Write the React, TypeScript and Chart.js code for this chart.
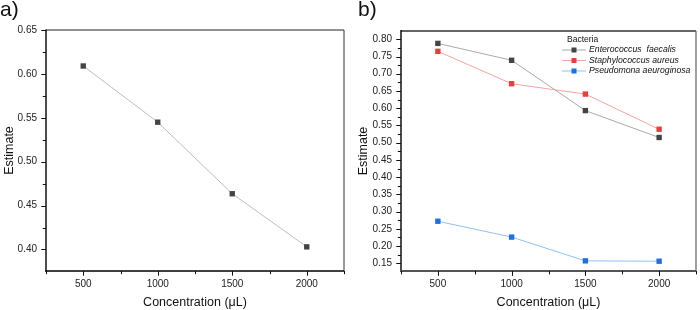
import { useEffect, useRef } from "react";
import { Chart, registerables } from "chart.js";

Chart.register(...registerables);

const FONT = "'Liberation Sans', Arial, sans-serif";

// Concentrations tested (µL)
const concentrations = [500, 1000, 1500, 2000];

// Panel a: single estimate per concentration
const estimateA = [0.609, 0.545, 0.4635, 0.403];

// Panel b: estimate per bacterium
const seriesNames = ["Enterococcus  faecalis", "Staphylococcus aureus", "Pseudomona aeuroginosa"];
const enterococcus = [0.788, 0.739, 0.593, 0.515];
const staphylococcus = [0.765, 0.671, 0.641, 0.539];
const pseudomona = [0.272, 0.226, 0.157, 0.156];

// Axis tick labels
const xTickLabels = [500, 1000, 1500, 2000];
const yTickLabelsA = [0.4, 0.45, 0.5, 0.55, 0.6, 0.65];
const yTickLabelsB = [0.15, 0.2, 0.25, 0.3, 0.35, 0.4, 0.45, 0.5, 0.55, 0.6, 0.65, 0.7, 0.75, 0.8];

type Border = { color: string; width: number };

// Major ticks with a minor tick halfway between each pair (and past the ends)
function withMinor(major: number[], min: number, max: number) {
  const step = major[1] - major[0];
  const out: { value: number; major: boolean }[] = [];
  const first = major[0] - step / 2;
  const count = major.length * 2 + 1;
  for (let i = 0; i < count; i++) {
    const v = Math.round((first + (i * step) / 2) * 100000) / 100000;
    if (v < min - 1e-9 || v > max + 1e-9) continue;
    out.push({ value: v, major: i % 2 === 1 });
  }
  return out;
}

const framePlugin = {
  id: "frame",
  afterDraw(chart: any, _args: any, opts: any) {
    const { ctx, chartArea } = chart;
    const { left, right, top, bottom } = chartArea;
    const xs = chart.scales.x;
    const ys = chart.scales.y;
    ctx.save();
    const seg = (x1: number, y1: number, x2: number, y2: number, b: Border) => {
      ctx.beginPath();
      ctx.strokeStyle = b.color;
      ctx.lineWidth = b.width;
      ctx.moveTo(x1, y1);
      ctx.lineTo(x2, y2);
      ctx.stroke();
    };
    const bt: Border = opts.top;
    const br: Border = opts.right;
    const bl: Border = opts.left;
    const bb: Border = opts.bottom;
    seg(left, top, right, top, bt);
    seg(right, top, right, bottom, br);
    seg(left, top - bt.width / 2, left, bottom + bb.width / 2, bl);
    seg(left - bl.width / 2, bottom, right, bottom, bb);

    // tick marks, outward
    const tickStyle: Border = { color: "#111", width: 1 };
    xs.ticks.forEach((t: any) => {
      const px = Math.round(xs.getPixelForValue(t.value)) + 0.5;
      const len = t.label !== "" ? 4 : 2.5;
      seg(px, bottom, px, bottom + bb.width / 2 + len, tickStyle);
    });
    ys.ticks.forEach((t: any) => {
      const py = Math.round(ys.getPixelForValue(t.value)) + 0.5;
      const len = t.label !== "" ? 4 : 2.5;
      seg(left - bl.width / 2 - len, py, left, py, tickStyle);
    });

    // panel letter
    ctx.fillStyle = "#111";
    ctx.font = `21px ${FONT}`;
    ctx.textBaseline = "alphabetic";
    ctx.textAlign = "left";
    ctx.fillText(opts.letter, opts.letterX, opts.letterY);
    ctx.restore();
  },
};

const legendPlugin = {
  id: "innerLegend",
  afterDatasetsDraw(chart: any, _args: any, opts: any) {
    if (!opts || !opts.show) return;
    const { ctx } = chart;
    ctx.save();
    ctx.textAlign = "left";
    ctx.textBaseline = "middle";
    ctx.fillStyle = "#111";
    ctx.font = `8.5px ${FONT}`;
    ctx.fillText(opts.title, opts.x + 5, opts.y);
    chart.data.datasets.forEach((ds: any, i: number) => {
      const cy = opts.y + opts.rowGap * (i + 1) - 0.5;
      ctx.beginPath();
      ctx.strokeStyle = ds.borderColor;
      ctx.lineWidth = 1;
      ctx.moveTo(opts.x, cy + 0.5);
      ctx.lineTo(opts.x + 24, cy + 0.5);
      ctx.stroke();
      ctx.fillStyle = ds.pointBackgroundColor;
      ctx.fillRect(opts.x + 12 - 2.5, cy - 2, 5, 5);
      ctx.fillStyle = "#111";
      ctx.font = `italic 8.7px ${FONT}`;
      ctx.fillText(ds.label, opts.x + 27, cy + 0.5);
    });
    ctx.restore();
  },
};

type PanelSpec = {
  datasets: any[];
  yMin: number;
  yMax: number;
  yLabels: number[];
  yWidth: number;
  yTitlePad: number;
  padding: { top: number; right: number; left: number; bottom: number };
  frame: any;
  legend: any;
};

function buildConfig(spec: PanelSpec): any {
  return {
    type: "line",
    data: { datasets: spec.datasets },
    plugins: [framePlugin, legendPlugin],
    options: {
      animation: false,
      responsive: false,
      events: [],
      layout: { padding: spec.padding },
      plugins: {
        legend: { display: false },
        tooltip: { enabled: false },
        frame: spec.frame,
        innerLegend: spec.legend,
      },
      scales: {
        x: {
          type: "linear",
          min: 250,
          max: 2250,
          grid: { display: false, drawTicks: true, tickLength: 4 },
          border: { display: false },
          afterBuildTicks: (scale: any) => {
            scale.ticks = withMinor(xTickLabels, 250, 2250);
          },
          afterFit: (scale: any) => {
            scale.height = 39;
          },
          ticks: {
            padding: 3,
            autoSkip: false,
            maxRotation: 0,
            color: "#222",
            font: { family: FONT, size: 10 },
            callback: (v: number) => (xTickLabels.includes(v) ? String(v) : ""),
          },
          title: {
            display: true,
            text: "Concentration (\u03bcL)",
            color: "#111",
            font: { family: FONT, size: 12.5 },
            padding: { top: 0, bottom: 0 },
          },
        },
        y: {
          type: "linear",
          min: spec.yMin,
          max: spec.yMax,
          grid: { display: false, drawTicks: true, tickLength: 4 },
          border: { display: false },
          afterBuildTicks: (scale: any) => {
            scale.ticks = withMinor(spec.yLabels, spec.yMin, spec.yMax);
          },
          afterFit: (scale: any) => {
            scale.width = spec.yWidth;
          },
          ticks: {
            padding: 5,
            autoSkip: false,
            color: "#222",
            font: { family: FONT, size: 10 },
            callback: (v: number) =>
              spec.yLabels.some((l) => Math.abs(l - v) < 1e-6) ? v.toFixed(2) : "",
          },
          title: {
            display: true,
            text: "Estimate",
            color: "#111",
            font: { family: FONT, size: 12.5 },
            padding: { top: spec.yTitlePad, bottom: 0 },
          },
        },
      },
    },
  };
}

function toPoints(values: number[]) {
  return concentrations.map((c, i) => ({ x: c, y: values[i] }));
}

function series(label: string, values: number[], line: string, marker: string) {
  return {
    label,
    data: toPoints(values),
    borderColor: line,
    borderWidth: 1,
    pointStyle: "rect",
    pointRadius: 3.8,
    pointBorderWidth: 0,
    pointBackgroundColor: marker,
    pointBorderColor: marker,
    tension: 0,
  };
}

const specA: PanelSpec = {
  datasets: [series("Estimate", estimateA, "#bdbdbd", "#444444")],
  yMin: 0.3755,
  yMax: 0.65,
  yLabels: yTickLabelsA,
  yWidth: 46,
  yTitlePad: 2,
  padding: { top: 30, right: 6, left: 0, bottom: 0 },
  frame: {
    letter: "a)",
    letterX: 0,
    letterY: 16,
    top: { color: "#222", width: 1 },
    right: { color: "#333", width: 1 },
    left: { color: "#000", width: 1.4 },
    bottom: { color: "#000", width: 1.4 },
  },
  legend: { show: false },
};

const specB: PanelSpec = {
  datasets: [
    series(seriesNames[0], enterococcus, "#a9a9a9", "#444444"),
    series(seriesNames[1], staphylococcus, "#f5a3a3", "#ee3b3b"),
    series(seriesNames[2], pseudomona, "#8fc0f2", "#1f6fe3"),
  ],
  yMin: 0.1276,
  yMax: 0.824,
  yLabels: yTickLabelsB,
  yWidth: 51,
  yTitlePad: 6,
  padding: { top: 31, right: 1, left: 0, bottom: 0 },
  frame: {
    letter: "b)",
    letterX: 8,
    letterY: 16,
    top: { color: "#666", width: 2.2 },
    right: { color: "#777", width: 1.4 },
    left: { color: "#000", width: 1.4 },
    bottom: { color: "#555", width: 1.8 },
  },
  legend: { show: true, title: "Bacteria", x: 562, y: 39.5, rowGap: 10.5 },
};

function Panel({ spec, left }: { spec: PanelSpec; left: number }) {
  const ref = useRef<HTMLCanvasElement | null>(null);
  useEffect(() => {
    if (!ref.current) return;
    const chart = new Chart(ref.current, buildConfig(spec));
    return () => chart.destroy();
  }, [spec]);
  return (
    <canvas
      ref={ref}
      width={350}
      height={310}
      style={{ position: "absolute", left, top: 0, width: 350, height: 310 }}
    />
  );
}

export default function App() {
  // legend x is given in page coordinates; convert for the right-hand canvas
  const b = { ...specB, legend: { ...specB.legend, x: specB.legend.x - 350 } };
  return (
    <div
      style={{
        position: "fixed",
        left: 0,
        top: 0,
        width: 700,
        height: 310,
        background: "#fff",
        overflow: "hidden",
      }}
    >
      <Panel spec={specA} left={0} />
      <Panel spec={b} left={350} />
    </div>
  );
}
